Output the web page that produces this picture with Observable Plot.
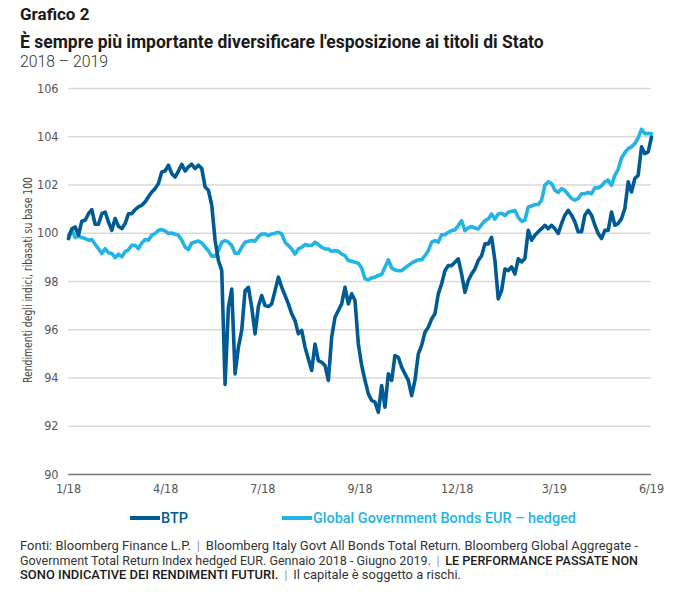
<!DOCTYPE html>
<html lang="it">
<head>
<meta charset="utf-8">
<script src="https://cdn.jsdelivr.net/npm/d3@7"></script>
<script src="https://cdn.jsdelivr.net/npm/@observablehq/plot@0.6"></script>
<style>
  html, body { margin: 0; padding: 0; background: #fff; }
  body {
    width: 676px; height: 592px; position: relative; overflow: hidden;
    font-family: "Roboto", "DejaVu Sans Condensed", sans-serif;
    color: #1a1a1a;
  }
  .abs { position: absolute; white-space: nowrap; }
  .fit { transform-origin: left center; }
  #kicker { left: 20px; top: 6px; font-size: 17px; line-height: 17px; font-weight: bold; }
  #title { left: 20px; top: 34px; font-size: 17.5px; line-height: 17px; font-weight: bold; }
  #subtitle { left: 20px; top: 54px; font-size: 16.5px; line-height: 16px; color: #333; font-weight: 300; }
  #chart { left: 0; top: 78px; }
  #ylabel {
    left: 27px; top: 280px; font-size: 12.5px; color: #444;
    font-family: "DejaVu Sans Condensed", sans-serif;
  }
  #legend { left: 130px; top: 508px; font-size: 15.5px; }
  .item { position: absolute; top: 0; white-space: nowrap; display: flex; align-items: center; height: 20px; }
  .swatch { display: inline-block; width: 30px; height: 4px; margin-right: 1px; }
  .lab { display: inline-block; font-weight: 500; transform-origin: left center; }
  #footer { left: 20px; top: 539px; font-size: 13.3px; line-height: 14.6px; color: #333; }
  #footer .line { width: max-content; transform-origin: left center; }
  #footer .sep { color: #9a9a9a; padding: 0 6px; }
  #footer b { color: #1a1a1a; font-weight: 500; }
</style>
</head>
<body>
<div id="kicker" class="abs fit">Grafico 2</div>
<div id="title" class="abs fit">È sempre più importante diversificare l'esposizione ai titoli di Stato</div>
<div id="subtitle" class="abs fit">2018 – 2019</div>
<div id="chart" class="abs"></div>
<div id="ylabel" class="abs">Rendimenti degli indici, ribasati su base 100</div>
<div id="legend" class="abs"></div>
<div id="footer" class="abs">
  <div class="line">Fonti: Bloomberg Finance L.P.<span class="sep">|</span>Bloomberg Italy Govt All Bonds Total Return. Bloomberg Global Aggregate -</div>
  <div class="line">Government Total Return Index hedged EUR. Gennaio 2018 - Giugno 2019.<span class="sep">|</span><b>LE PERFORMANCE PASSATE NON</b></div>
  <div class="line"><b>SONO INDICATIVE DEI RENDIMENTI FUTURI.</b><span class="sep">|</span>Il capitale è soggetto a rischi.</div>
</div>
<script>
// Date labels shown under the horizontal axis, evenly spaced across the period
const tickLabels = ["1/18", "4/18", "7/18", "9/18", "12/18", "3/19", "6/19"];

// Series names for the legend
const seriesNames = ["BTP", "Global Government Bonds EUR – hedged"];

// BTP index, rebased to 100 (Jan 2018 – Jun 2019)
const btp = [
  99.78, 100.18, 100.26, 99.92, 100.50, 100.54, 100.81, 100.98, 100.37, 100.37,
  100.81, 100.88, 100.47, 100.12, 100.61, 100.29, 100.19, 100.40, 100.81, 100.81,
  100.98, 101.09, 101.16, 101.30, 101.51, 101.71, 101.85, 102.06, 102.54, 102.58,
  102.82, 102.47, 102.33, 102.58, 102.86, 102.58, 102.75, 102.86, 102.68, 102.82,
  102.68, 101.92, 101.78, 101.16, 99.71,
  98.87, 98.45, 93.73, 96.93, 97.69, 94.17, 95.28, 95.97, 97.62, 97.76,
  96.93, 95.83, 96.96, 97.42, 97.00, 96.96, 97.07, 97.62, 98.18, 97.76,
  97.42, 97.07, 96.66, 96.38, 95.83, 95.97, 95.28, 94.79, 94.31, 95.41,
  94.72, 94.65, 94.52, 93.90, 95.69, 96.52, 96.80, 97.07, 97.76, 97.07,
  97.49, 97.21, 95.41, 94.52, 93.90, 93.34,
  93.07, 93.00, 92.58, 93.69, 92.79, 94.17, 93.90, 94.93, 94.86, 94.45,
  94.17, 93.90, 93.27, 93.90, 95.00, 95.35, 95.90, 96.10, 96.45, 96.66,
  97.49, 97.90, 98.45, 98.66, 98.66, 98.80, 98.94, 98.31, 97.55, 98.04,
  98.31, 98.52, 98.87, 99.07, 99.56, 99.56, 99.83, 98.87, 97.28, 97.62,
  98.52, 98.45, 98.61, 98.31, 98.94,
  98.81, 98.95, 100.12, 99.71, 99.92, 100.06, 100.19, 100.33, 100.19, 100.33,
  100.19, 99.99, 100.40, 100.75, 100.95, 100.75, 100.47, 100.06, 100.06, 100.75,
  100.95, 100.75, 100.33, 99.99, 99.78, 100.12, 100.12, 100.88, 100.33, 100.40,
  100.61, 101.02, 102.13, 101.71, 102.27, 102.40, 103.58, 103.30, 103.37, 103.99
];

// Global Government Bonds EUR hedged index, rebased to 100
const globalHedged = [
  99.92, 100.15, 99.82, 99.88, 99.82, 99.78, 99.71, 99.74, 99.54, 99.36,
  99.16, 99.36, 99.19, 99.16, 98.99, 99.13, 99.02, 99.23, 99.32, 99.50,
  99.50, 99.36, 99.60, 99.74, 99.71, 99.92, 99.99, 100.12, 100.15, 100.10,
  99.99, 100.01, 99.96, 99.92, 99.71, 99.43, 99.32, 99.60, 99.64, 99.68,
  99.60, 99.43, 99.27, 99.05, 99.05,
  99.28, 99.63, 99.70, 99.63, 99.49, 99.17, 99.17, 99.42, 99.63, 99.67,
  99.70, 99.67, 99.86, 99.97, 99.97, 99.90, 99.97, 100.00, 100.04, 99.97,
  99.63, 99.49, 99.35, 99.14, 99.35, 99.42, 99.53, 99.49, 99.49, 99.63,
  99.53, 99.42, 99.35, 99.35, 99.25, 99.28, 99.25, 99.14, 99.07, 98.87,
  98.84, 98.80, 98.76, 98.56, 98.11, 98.07,
  98.15, 98.18, 98.25, 98.29, 98.59, 98.90, 98.56, 98.48, 98.45, 98.45,
  98.56, 98.66, 98.76, 98.84, 98.90, 98.90, 99.07, 99.28, 99.63, 99.70,
  99.63, 99.94, 99.94, 100.04, 100.11, 100.14, 100.32, 100.52, 100.11, 100.22,
  100.28, 100.22, 100.18, 100.36, 100.52, 100.59, 100.80, 100.59, 100.80, 100.83,
  100.73, 100.87, 100.91, 100.94, 100.66,
  100.50, 100.54, 101.09, 101.13, 101.19, 101.19, 101.37, 101.99, 102.13, 102.06,
  101.78, 101.69, 101.85, 101.78, 101.60, 101.44, 101.37, 101.44, 101.64, 101.64,
  101.69, 101.64, 101.88, 101.88, 101.96, 102.13, 102.20, 101.99, 102.40, 102.65,
  103.12, 103.34, 103.51, 103.58, 103.72, 103.95, 104.31, 104.13, 104.13, 104.13
];

const yTicks = [90, 92, 94, 96, 98, 100, 102, 104, 106];

const colors = { btp: "#005a94", glob: "#22b4e4" };
const axisFont = '"DejaVu Sans Condensed", "Roboto", sans-serif';

const n = btp.length;
const rows = d3.range(n).map(i => ({ i, btp: btp[i], glob: globalHedged[i] }));
const tickPos = tickLabels.map((_, j) => (n - 1) * j / (tickLabels.length - 1));

const chart = Plot.plot({
  width: 676,
  height: 430,
  marginLeft: 68,
  marginRight: 25,
  marginTop: 10,
  marginBottom: 34,
  style: { fontFamily: axisFont, fontSize: "12.5px", color: "#555", background: "transparent" },
  x: { domain: [0, n - 1] },
  y: { domain: [90, 106] },
  marks: [
    Plot.gridY(yTicks.filter(d => d > 90), { stroke: "#d9d9d9", strokeOpacity: 1, strokeWidth: 1.5 }),
    Plot.ruleY([90], { stroke: "#777", strokeWidth: 1.5 }),
    Plot.axisY(yTicks, { tickSize: 0, tickPadding: 10, label: null }),
    Plot.axisX(tickPos, {
      tickSize: 0, tickPadding: 10, label: null,
      tickFormat: d => tickLabels[tickPos.indexOf(d)]
    }),
    Plot.line(rows, { x: "i", y: "glob", stroke: colors.glob, strokeWidth: 3.6, strokeLinejoin: "round" }),
    Plot.line(rows, { x: "i", y: "btp", stroke: colors.btp, strokeWidth: 3.6, strokeLinejoin: "round" })
  ]
});
document.getElementById("chart").appendChild(chart);

// Narrow a text block horizontally so it spans the given width
function squeeze(node, width) {
  const w = node.getBoundingClientRect().width;
  node.style.transform = `scaleX(${Math.min(1, width / w)})`;
}

// Legend: line swatch followed by the series name in the same colour
const legend = d3.select("#legend");
const legendItems = [
  { name: seriesNames[0], color: colors.btp, left: 0, width: 27 },
  { name: seriesNames[1], color: colors.glob, left: 152, width: 263 }
];
legendItems.forEach(item => {
  const el = legend.append("div").attr("class", "item").style("left", item.left + "px");
  el.append("span").attr("class", "swatch").style("background", item.color);
  const lab = el.append("span").attr("class", "lab").style("color", item.color).text(item.name);
  squeeze(lab.node(), item.width);
});

squeeze(document.getElementById("kicker"), 72);
squeeze(document.getElementById("title"), 526);
squeeze(document.getElementById("subtitle"), 88);
const footerWidths = [618, 618, 441];
document.querySelectorAll("#footer .line").forEach((el, i) => squeeze(el, footerWidths[i]));

// Vertical axis title, centred on the plot height
const yl = document.getElementById("ylabel");
const ylw = yl.getBoundingClientRect().width;
yl.style.transform = `translate(-50%, -50%) rotate(-90deg) scaleX(${Math.min(1, 206 / ylw)})`;
</script>
</body>
</html>
